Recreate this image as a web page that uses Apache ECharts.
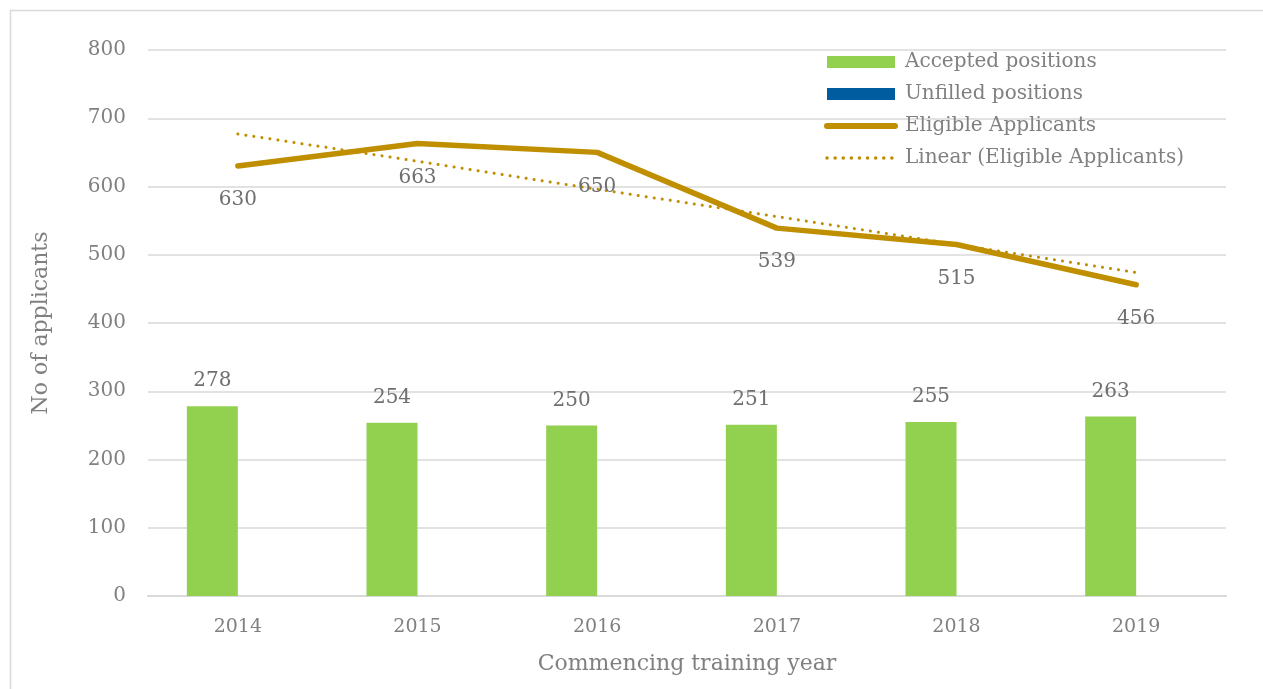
<!DOCTYPE html>
<html>
<head>
<meta charset="utf-8">
<script src="https://cdn.jsdelivr.net/npm/echarts@6/dist/echarts.min.js"></script>
<style>
html,body{margin:0;padding:0;background:#fff;}
#chart{width:1263px;height:689px;}
</style>
</head>
<body>
<div id="chart"></div>
<script>
var categories = ['2014', '2015', '2016', '2017', '2018', '2019'];
var acceptedPositions = [278, 254, 250, 251, 255, 263];
var unfilledPositions = [0, 0, 0, 0, 0, 0];
var eligibleApplicants = [630, 663, 650, 539, 515, 456];
var linearEligible = [677, 637, 596, 556, 515, 474];
var yTicks = { min: 0, max: 800, interval: 100 };

var FONT = 'DejaVu Serif';
var GOLD = '#BF8F00';
var chart = echarts.init(document.getElementById('chart'), null, { renderer: 'canvas' });
chart.setOption({
  animation: false,
  backgroundColor: '#ffffff',
  textStyle: { fontFamily: FONT },
  graphic: [
    { type: 'line', shape: { x1: 10, y1: 10.5, x2: 1263, y2: 10.5 }, style: { stroke: '#d9d9d9', lineWidth: 1.5 }, silent: true },
    { type: 'line', shape: { x1: 10.5, y1: 10, x2: 10.5, y2: 689 }, style: { stroke: '#d9d9d9', lineWidth: 1.5 }, silent: true }
  ],
  grid: { left: 148, right: 37, top: 50, bottom: 93, containLabel: false },
  legend: {
    orient: 'vertical',
    left: 824,
    top: 52,
    padding: 0,
    itemWidth: 68,
    itemHeight: 12,
    itemGap: 12,
    textStyle: { fontFamily: FONT, fontSize: 20, color: '#808080', padding: [0, 0, 0, 5] },
    data: [
      { name: 'Accepted positions', icon: 'rect' },
      { name: 'Unfilled positions', icon: 'rect' },
      { name: 'Eligible Applicants', itemStyle: { opacity: 0 }, lineStyle: { color: GOLD, width: 6, cap: 'round' } },
      { name: 'Linear (Eligible Applicants)', itemStyle: { opacity: 0 }, lineStyle: { color: GOLD, width: 3.5, type: [0.1, 8], cap: 'round' } }
    ]
  },
  xAxis: {
    type: 'category',
    data: categories,
    name: 'Commencing training year',
    nameLocation: 'middle',
    nameGap: 57,
    nameTextStyle: { fontFamily: FONT, fontSize: 22, color: '#808080' },
    axisLine: { show: true, lineStyle: { color: '#d9d9d9', width: 2 } },
    axisTick: { show: false },
    axisLabel: { fontFamily: FONT, fontSize: 19, color: '#808080', margin: 22 },
    splitLine: { show: false }
  },
  yAxis: {
    type: 'value',
    min: yTicks.min,
    max: yTicks.max,
    interval: yTicks.interval,
    name: 'No of applicants',
    nameLocation: 'middle',
    nameGap: 96,
    nameTextStyle: { fontFamily: FONT, fontSize: 22, color: '#808080' },
    axisLine: { show: false },
    axisTick: { show: false },
    axisLabel: { fontFamily: FONT, fontSize: 20, color: '#808080', margin: 22 },
    splitLine: { show: true, lineStyle: { color: '#d9d9d9', width: 1.5 } }
  },
  series: [
    {
      name: 'Accepted positions',
      type: 'bar',
      data: acceptedPositions,
      barWidth: 51,
      barGap: '0%',
      itemStyle: { color: '#92D050' },
      label: { show: true, position: 'top', distance: 15, fontFamily: FONT, fontSize: 20, color: '#6f6f6f' },
      z: 2
    },
    {
      name: 'Unfilled positions',
      type: 'bar',
      data: unfilledPositions,
      barWidth: 51,
      barGap: '0%',
      itemStyle: { color: '#005B9F' },
      z: 2
    },
    {
      name: 'Eligible Applicants',
      type: 'line',
      data: eligibleApplicants,
      symbol: 'circle',
      symbolSize: 2,
      showSymbol: true,
      itemStyle: { color: GOLD },
      lineStyle: { color: GOLD, width: 5.5, cap: 'round', join: 'round' },
      label: { show: true, position: 'bottom', distance: 23, fontFamily: FONT, fontSize: 20, color: '#6f6f6f' },
      z: 4
    },
    {
      name: 'Linear (Eligible Applicants)',
      type: 'line',
      data: linearEligible,
      symbol: 'none',
      itemStyle: { color: GOLD },
      lineStyle: { color: GOLD, width: 3, type: [0.1, 8], cap: 'round' },
      z: 3
    }
  ]
});
</script>
</body>
</html>
